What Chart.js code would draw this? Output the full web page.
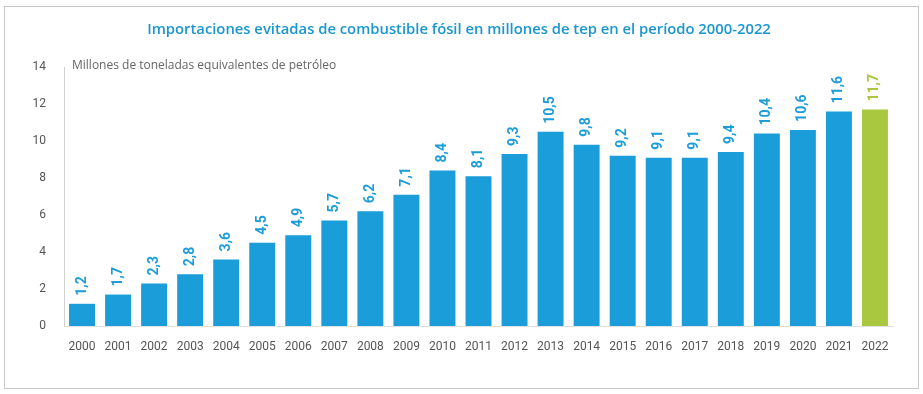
<!DOCTYPE html>
<html>
<head>
<meta charset="utf-8">
<script src="https://cdn.jsdelivr.net/npm/chart.js@4.4.0/dist/chart.umd.min.js"></script>
<style>
  html, body { margin: 0; padding: 0; background: #fff; }
  #wrap { position: relative; width: 923px; height: 394px; }
</style>
</head>
<body>
<div id="wrap"><canvas id="chart"></canvas></div>
<script>
// Importaciones evitadas de combustible fósil, 2000-2022 (Mtep)
const years = ["2000", "2001", "2002", "2003", "2004", "2005", "2006", "2007", "2008", "2009", "2010", "2011",
  "2012", "2013", "2014", "2015", "2016", "2017", "2018", "2019", "2020", "2021", "2022"];
const values = [1.2, 1.7, 2.3, 2.8, 3.6, 4.5, 4.9, 5.7, 6.2, 7.1, 8.4, 8.1,
  9.3, 10.5, 9.8, 9.2, 9.1, 9.1, 9.4, 10.4, 10.6, 11.6, 11.7];
const yTicks = [0, 2, 4, 6, 8, 10, 12, 14];

const BLUE = "#1b9dd9";
const GREEN = "#a9c840";
const TEXT = "#555";
const barColors = years.map((y, i) => (i === years.length - 1 ? GREEN : BLUE));

const frame = {
  id: "frame",
  beforeDraw(chart) {
    const ctx = chart.ctx;
    ctx.save();
    ctx.fillStyle = "#fff";
    ctx.fillRect(0, 0, chart.width, chart.height);
    ctx.strokeStyle = "#c8c8c8";
    ctx.lineWidth = 1;
    ctx.strokeRect(4.5, 6.5, 914, 382);
    ctx.fillStyle = "#1a96d0";
    ctx.font = "600 14.8px 'Open Sans', sans-serif";
    ctx.textAlign = "center";
    ctx.textBaseline = "middle";
    ctx.fillText("Importaciones evitadas de combustible fósil en millones de tep en el período 2000-2022", 459, 30);
    ctx.fillStyle = "#666";
    ctx.font = "12px 'Open Sans', sans-serif";
    ctx.textAlign = "left";
    ctx.fillText("Millones de toneladas equivalentes de petróleo", 72, 66);
    ctx.restore();
  },
};

const barLabels = {
  id: "barLabels",
  afterDatasetsDraw(chart) {
    const ctx = chart.ctx;
    const meta = chart.getDatasetMeta(0);
    ctx.save();
    ctx.font = "bold 14px Roboto, sans-serif";
    ctx.textAlign = "left";
    ctx.textBaseline = "middle";
    meta.data.forEach((bar, i) => {
      ctx.save();
      ctx.translate(bar.x, bar.y - 8);
      ctx.rotate(-Math.PI / 2);
      ctx.fillStyle = barColors[i];
      ctx.fillText(values[i].toFixed(1).replace(".", ","), 0, 0);
      ctx.restore();
    });
    ctx.restore();
  },
};

new Chart(document.getElementById("chart"), {
  type: "bar",
  data: {
    labels: years,
    datasets: [{
      data: values,
      backgroundColor: barColors,
      barPercentage: 0.8,
      categoryPercentage: 0.9,
    }],
  },
  options: {
    responsive: true,
    maintainAspectRatio: false,
    animation: false,
    layout: { padding: { top: 67, right: 30, bottom: 0, left: 0 } },
    plugins: { legend: { display: false }, tooltip: { enabled: false } },
    scales: {
      x: {
        grid: { display: false, drawTicks: false },
        border: { color: "#e0e0e0" },
        ticks: { color: TEXT, font: { family: "Roboto", size: 12 }, padding: 14, maxRotation: 0, autoSkip: false },
        afterFit: (s) => { s.height = 68; },
      },
      y: {
        min: 0,
        max: 14,
        afterBuildTicks: (s) => { s.ticks = yTicks.map((v) => ({ value: v })); },
        grid: { display: false, drawTicks: false },
        border: { color: "#d0d0d0" },
        ticks: { color: TEXT, font: { family: "Roboto", size: 12 }, padding: 18 },
        afterFit: (s) => { s.width = 64; },
      },
    },
  },
  plugins: [frame, barLabels],
});
</script>
</body>
</html>
